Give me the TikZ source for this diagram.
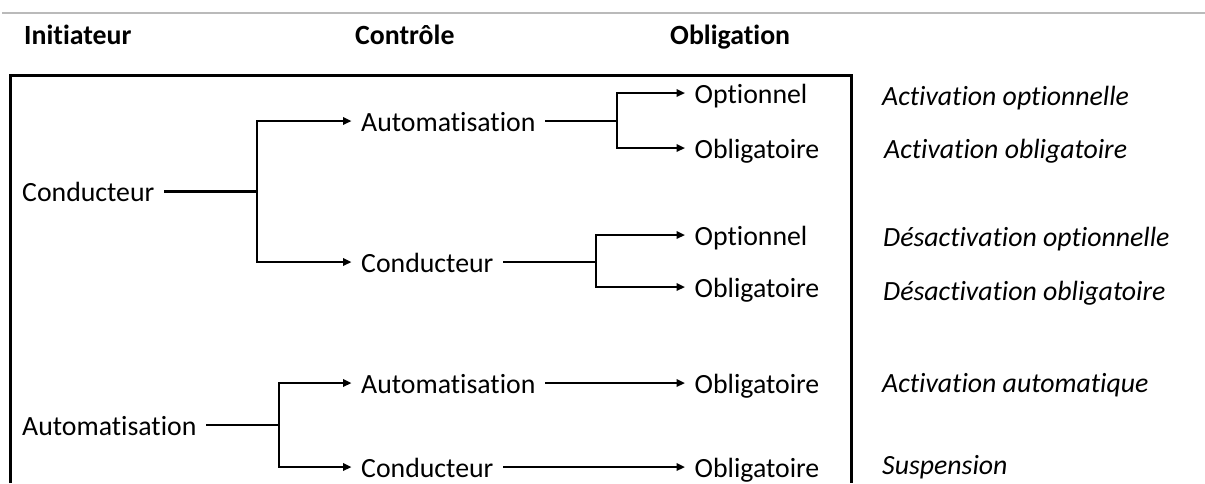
\documentclass[tikz,border=0pt]{standalone}
\usepackage{fontspec}
\setmainfont{Carlito}[Ligatures=NoCommon]
\usetikzlibrary{arrows.meta}

\begin{document}
\begin{tikzpicture}[x=1pt,y=-1pt,
  item/.style={font=\fontsize{27.8}{33}\selectfont, anchor=west,
    inner xsep=9.5pt, inner ysep=0pt, text height=20pt, text depth=0pt},
  head/.style={font=\fontsize{27.8}{33}\selectfont\bfseries, anchor=base west, inner sep=0pt},
  result/.style={font=\fontsize{27.8}{33}\selectfont\itshape, anchor=base west, inner sep=0pt},
  link/.style={line width=2.8pt, line join=miter},
  arr/.style={link, -{Triangle[length=8.5pt,width=7.5pt]}},
  frame/.style={line width=3.2pt, line join=miter},
]
\useasboundingbox (0,0) rectangle (1205,483);

% rule above the header
\draw[black!27, line width=1.4pt] (2,13) -- (1205,13);

% column headers
\node[head] (hInit) at (24,44.5) {Initiateur};
\node[head] (hCtrl) at (355,44.5) {Contrôle};
\node[head] (hObl)  at (670,44.5) {Obligation};

% frame around the tree (open at the bottom)
\draw[frame] (10.5,483) |- (851.5,75.5) -- (851.5,483);

% initiators
\node[item] (c1) at (12.5,191.5) {Conducteur};
\node[item] (a1) at (12.5,425)   {Automatisation};

% control
\node[item] (a2) at (351.5,121) {Automatisation};
\node[item] (c2) at (351.5,262) {Conducteur};
\node[item] (a3) at (351.5,383) {Automatisation};
\node[item] (c3) at (351.5,467) {Conducteur};

% obligation
\node[item] (o1) at (685,93)  {Optionnel};
\node[item] (b1) at (685,148) {Obligatoire};
\node[item] (o2) at (685,235) {Optionnel};
\node[item] (b2) at (685,287) {Obligatoire};
\node[item] (b3) at (685,383) {Obligatoire};
\node[item] (b4) at (685,467) {Obligatoire};

% resulting modes
\node[result] (r1) at (882,105)   {Activation optionnelle};
\node[result] (r2) at (884,158)   {Activation obligatoire};
\node[result] (r3) at (883,246.5) {Désactivation optionnelle};
\node[result] (r4) at (883,300)   {Désactivation obligatoire};
\node[result] (r5) at (882,392)   {Activation automatique};
\node[result] (r6) at (882,474)   {Suspension};

% branch points
\coordinate (j1) at (257,191.5);
\coordinate (j2) at (617,121);
\coordinate (j3) at (596,262);
\coordinate (j4) at (279,425);

% connectors
\draw[arr] (c1.east) -- (j1) |- (a2.west);
\draw[arr] (j1) |- (c2.west);

\draw[arr] (a2.east) -- (j2) |- (o1.west);
\draw[arr] (j2) |- (b1.west);

\draw[arr] (c2.east) -- (j3) |- (o2.west);
\draw[arr] (j3) |- (b2.west);

\draw[arr] (a1.east) -- (j4) |- (a3.west);
\draw[arr] (j4) |- (c3.west);

\draw[arr] (a3.east) -- (b3.west);
\draw[arr] (c3.east) -- (b4.west);
\end{tikzpicture}
\end{document}
